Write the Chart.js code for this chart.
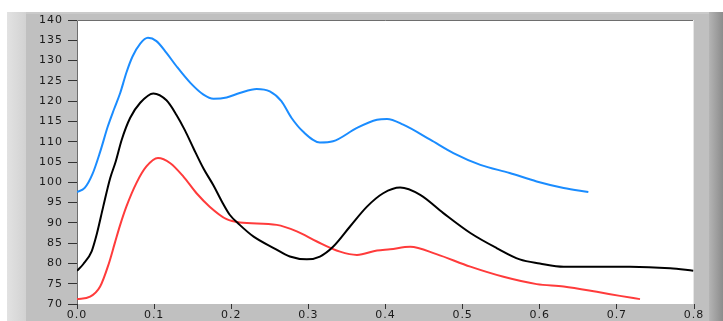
<!DOCTYPE html>
<html>
<head>
<meta charset="utf-8">
<script src="https://cdn.jsdelivr.net/npm/chart.js@4"></script>
<style>
  html, body { margin: 0; padding: 0; background: #ffffff; }
  #wrap { width: 723px; height: 321px; }
</style>
</head>
<body>
<div id="wrap"><canvas id="c" width="723" height="321"></canvas></div>
<script>
// ---- data ----
const xTicks = [0.0, 0.1, 0.2, 0.3, 0.4, 0.5, 0.6, 0.7, 0.8];
const yTicks = [70, 75, 80, 85, 90, 95, 100, 105, 110, 115, 120, 125, 130, 135, 140];

const blueX = [0, 0.010, 0.020, 0.030, 0.040, 0.048, 0.056, 0.064, 0.072, 0.082, 0.092, 0.103, 0.116, 0.129, 0.147, 0.164, 0.177, 0.194, 0.211, 0.233, 0.250, 0.265, 0.278, 0.293, 0.315, 0.332, 0.363, 0.389, 0.402, 0.423, 0.458, 0.488, 0.523, 0.561, 0.596, 0.631, 0.663];
const blueY = [97.6, 98.6, 102.0, 107.5, 113.8, 118.0, 122.0, 127.0, 131.0, 134.2, 135.6, 134.8, 131.9, 128.6, 124.5, 121.6, 120.6, 120.9, 122.0, 123.0, 122.4, 120.0, 115.9, 112.5, 109.8, 110.1, 113.4, 115.4, 115.6, 114.2, 110.5, 107.2, 104.3, 102.3, 100.2, 98.6, 97.6];

const blackX = [0, 0.008, 0.019, 0.026, 0.034, 0.043, 0.050, 0.058, 0.069, 0.082, 0.099, 0.116, 0.129, 0.140, 0.151, 0.164, 0.177, 0.188, 0.198, 0.211, 0.229, 0.255, 0.276, 0.298, 0.315, 0.332, 0.354, 0.376, 0.397, 0.419, 0.445, 0.475, 0.510, 0.544, 0.574, 0.600, 0.631, 0.674, 0.717, 0.769, 0.799];
const blackY = [78.2, 79.8, 83.0, 87.5, 94.0, 101.0, 105.0, 110.5, 115.9, 119.6, 121.9, 120.2, 116.6, 112.8, 108.4, 103.4, 99.2, 95.2, 92.0, 89.5, 86.6, 83.8, 81.7, 81.0, 81.7, 84.1, 89.1, 94.0, 97.3, 98.7, 96.9, 92.4, 87.5, 83.8, 81.0, 80.0, 79.2, 79.2, 79.2, 78.8, 78.2];

const redX = [0, 0.017, 0.030, 0.041, 0.049, 0.056, 0.064, 0.077, 0.090, 0.105, 0.121, 0.138, 0.155, 0.172, 0.194, 0.211, 0.259, 0.285, 0.311, 0.341, 0.363, 0.389, 0.406, 0.432, 0.466, 0.510, 0.553, 0.596, 0.631, 0.674, 0.704, 0.730];
const redY = [71.2, 71.8, 74.3, 79.8, 85.0, 89.5, 94.0, 99.8, 103.9, 106.0, 104.7, 101.4, 97.3, 94.0, 90.9, 90.1, 89.5, 87.9, 85.4, 82.9, 82.1, 83.2, 83.5, 84.1, 82.3, 79.2, 76.7, 74.9, 74.3, 73.0, 72.0, 71.2];

function pts(xs, ys) { return xs.map((x, i) => ({ x: x, y: ys[i] })); }

const panelPlugin = {
  id: 'panel',
  beforeDraw(chart) {
    const ctx = chart.ctx;
    const W = chart.width, H = chart.height;
    const a = chart.chartArea;
    ctx.save();
    ctx.fillStyle = '#ffffff';
    ctx.fillRect(0, 0, W, H);
    ctx.fillStyle = '#c0c0c0';
    ctx.fillRect(7, 12, W - 7, H - 12);
    const lg = ctx.createLinearGradient(7, 0, 26, 0);
    lg.addColorStop(0, '#e2e2e2');
    lg.addColorStop(1, '#d2d2d2');
    ctx.fillStyle = lg;
    ctx.fillRect(7, 12, 19, H - 12);
    const rg = ctx.createLinearGradient(709, 0, W, 0);
    rg.addColorStop(0, '#b4b4b4');
    rg.addColorStop(1, '#8c8c8c');
    ctx.fillStyle = rg;
    ctx.fillRect(709, 12, W - 709, H - 12);
    ctx.fillStyle = '#cacaca';
    ctx.fillRect(26, 12, 683, 2);
    ctx.fillStyle = '#ffffff';
    ctx.fillRect(a.left, a.top, a.right - a.left, a.bottom - a.top);
    ctx.strokeStyle = '#6e6e6e';
    ctx.lineWidth = 1;
    ctx.beginPath();
    ctx.moveTo(a.left + 0.5, a.bottom);
    ctx.lineTo(a.left + 0.5, a.top + 0.5);
    ctx.lineTo(a.right, a.top + 0.5);
    ctx.stroke();
    ctx.strokeStyle = '#e6e6e6';
    ctx.beginPath();
    ctx.moveTo(a.right - 0.5, a.top);
    ctx.lineTo(a.right - 0.5, a.bottom);
    ctx.stroke();
    ctx.restore();
    ctx.letterSpacing = '1px';
  }
};

const lineCommon = {
  borderWidth: 2,
  pointRadius: 0,
  fill: false,
  cubicInterpolationMode: 'monotone'
};

new Chart(document.getElementById('c'), {
  type: 'line',
  data: {
    datasets: [
      Object.assign({ label: 'blue', data: pts(blueX, blueY), borderColor: '#1a8cff' }, lineCommon),
      Object.assign({ label: 'black', data: pts(blackX, blackY), borderColor: '#000000' }, lineCommon),
      Object.assign({ label: 'red', data: pts(redX, redY), borderColor: '#ff3b3b' }, lineCommon)
    ]
  },
  options: {
    responsive: false,
    animation: false,
    devicePixelRatio: 1,
    layout: { padding: { top: 20, right: 29, left: 0, bottom: 0 } },
    plugins: { legend: { display: false }, tooltip: { enabled: false } },
    scales: {
      x: {
        type: 'linear',
        min: 0, max: 0.8,
        afterBuildTicks(s) { s.ticks = xTicks.map(v => ({ value: v })); },
        afterFit(s) { s.height = 17; },
        grid: { drawOnChartArea: false, drawTicks: true, tickLength: 5, color: '#333333', tickWidth: 1 },
        border: { display: false },
        ticks: {
          padding: 0,
          color: '#1a1a1a',
          font: { family: 'DejaVu Sans', size: 11 },
          maxRotation: 0,
          callback: v => Number(v).toFixed(1)
        }
      },
      y: {
        type: 'linear',
        min: 70, max: 140,
        afterBuildTicks(s) { s.ticks = yTicks.map(v => ({ value: v })); },
        afterFit(s) { s.width = 77; },
        grid: { drawOnChartArea: false, drawTicks: true, tickLength: 9, color: '#333333', tickWidth: 1 },
        border: { display: false },
        ticks: {
          padding: 5,
          color: '#1a1a1a',
          font: { family: 'DejaVu Sans', size: 11 },
          callback: v => String(v)
        }
      }
    }
  },
  plugins: [panelPlugin]
});
</script>
</body>
</html>
